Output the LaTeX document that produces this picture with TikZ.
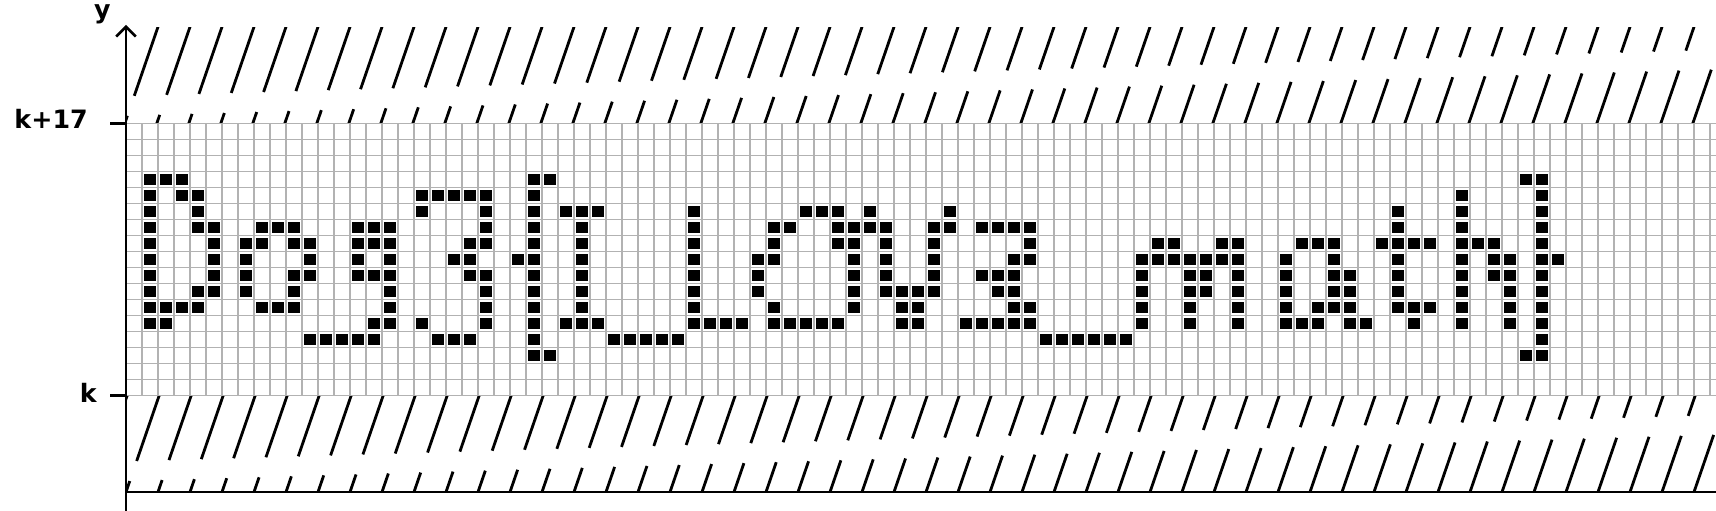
\documentclass[tikz,border=0pt]{standalone}
\usepackage{fontspec}
\setmainfont{DejaVu Sans}
\usetikzlibrary{arrows.meta}
\definecolor{gridgray}{RGB}{178,178,178}

\begin{document}
\begin{tikzpicture}[x=0.4cm, y=0.4cm,
    axisline/.style={line width=1.8pt},
    hatchline/.style={line width=2pt},
    gridline/.style={draw=gridgray, line width=1.3pt},
    pixel/.style={fill=black},
    lbl/.style={inner sep=0pt, font=\fontsize{18}{22}\selectfont\bfseries}]

    \useasboundingbox (-7.875,-7.156) rectangle (99.375,24.72);

    % Diem moc cua hai truc
    \coordinate (origin) at (0,-6.03);
    \coordinate (ybottom) at (0,-7.3);
    \coordinate (ytop) at (0,23.16);
    \coordinate (xend) at (99.5,-6.03);
    \coordinate (k17) at (-1,17);
    \coordinate (k0) at (-1,0);

    % Vung gach cheo ben ngoai dai
    \begin{scope}
        \clip (0,-6.03) rectangle (99.375,22.97);
        \foreach \j in {-5,...,50} {
            \pgfmathsetmacro\g{-4.72+0.0588*\j}
            \foreach \k in {-1,...,3} {
                \pgfmathsetmacro\ya{\g+7.6875*\k+0.625}
                \pgfmathsetmacro\yb{\g+7.6875*\k+7.0625}
                \draw[hatchline] ({2*\j+0.344*(\ya+6.03)},\ya) -- ({2*\j+0.344*(\yb+6.03)},\yb);
            }
        }
    \end{scope}

    % Dai luoi tu k den k+17
    \begin{scope}
        \clip (0,-0.1) rectangle (99.375,17.1);
        \fill[white] (0,0) rectangle (99.375,17);
        \draw[gridline, step=0.4cm] (0,0) grid (100,17);
    \end{scope}

    % Cac o den: Dog3[LOV3_math]
    \foreach \r/\cols in {
        3/{1,2,3,25,26,87,88},
        4/{1,3,4,18,19,20,21,22,25,83,88},
        5/{1,4,18,22,25,27,28,29,35,42,43,44,46,51,79,83,88},
        6/{1,4,5,8,9,10,14,15,16,22,25,28,35,40,41,44,45,46,47,50,51,53,54,55,56,79,83,88},
        7/{1,5,7,8,10,11,14,15,16,21,22,25,28,35,40,44,45,47,50,56,64,65,68,69,73,74,75,78,79,80,81,83,84,85,88},
        8/{1,5,7,11,14,16,20,21,24,25,28,35,39,40,45,47,50,55,56,63,64,65,66,67,68,69,72,75,79,83,85,86,88,89},
        9/{1,5,7,10,11,14,15,16,21,22,25,28,35,39,45,47,50,53,54,55,63,66,67,69,72,75,76,79,83,85,86,88},
        10/{1,4,5,7,10,16,22,25,28,35,39,45,47,48,49,50,54,55,63,66,67,69,72,75,76,79,83,86,88},
        11/{1,2,3,4,8,9,10,16,22,25,28,35,40,45,48,49,55,56,63,66,69,72,74,75,76,79,80,81,83,86,88},
        12/{1,2,15,16,18,22,25,27,28,29,35,36,37,38,40,41,42,43,44,48,49,52,53,54,55,56,63,66,69,72,73,74,76,77,80,83,86,88},
        13/{11,12,13,14,15,19,20,21,25,30,31,32,33,34,57,58,59,60,61,62,88},
        14/{25,26,87,88}} {
        \foreach \c in \cols
            \fill[pixel] (\c+0.15,16.15-\r) rectangle (\c+0.85,16.85-\r);
    }

    % Truc toa do va vach chia
    \draw[axisline, -{Straight Barb[length=7pt,width=14pt]}] (ybottom) -- (ytop);
    \draw[axisline] (origin) -- (xend);
    \draw[axisline] (k17) -- (k17 -| origin);
    \draw[axisline] (k0) -- (k0 -| origin);

    % Nhan
    \node[lbl, anchor=east] (lblk17) at (-2.375,17.31) {k+17};
    \node[lbl, anchor=east] (lblk) at (-1.81,0.156) {k};
    \node[lbl, anchor=base] (lbly) at (-1.47,23.55) {y};

\end{tikzpicture}
\end{document}
